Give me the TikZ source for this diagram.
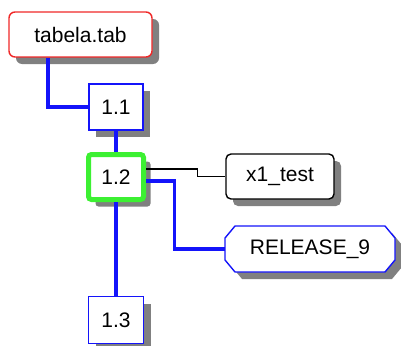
\documentclass[tikz,border=0pt]{standalone}
\usepackage{fontspec}
\setmainfont{Liberation Sans}
\usetikzlibrary{shadows,backgrounds}
\definecolor{boxblue}{RGB}{20,20,250}
\definecolor{boxred}{RGB}{240,40,40}
\definecolor{boxgreen}{RGB}{60,240,50}
\definecolor{shadowgrey}{RGB}{128,128,128}
\tikzset{
  label font/.style={font=\fontsize{21}{23}\selectfont, text=black},
  boxshadow/.style={drop shadow={shadow xshift=7pt, shadow yshift=-7pt, fill=shadowgrey, opacity=1}},
  item/.style={label font, boxshadow, fill=white, draw=boxblue, line width=1.4pt, inner sep=0pt},
  rootbox/.style={item, draw=boxred, rounded corners=6pt},
  revbox/.style={item, minimum width=55pt, minimum height=46pt},
  activebox/.style={item, draw=boxgreen, line width=5pt, rounded corners=3pt},
  namebox/.style={item, draw=black, rounded corners=5pt},
  tagtext/.style={label font, inner sep=0pt, outer sep=0pt},
  tagoutline/.style={boxshadow, fill=white, draw=boxblue, line width=1.4pt},
  branch/.style={draw=boxblue, line width=3.6pt},
  link/.style={draw=black, line width=1.3pt}
}
\begin{document}
\begin{tikzpicture}[x=1pt, y=-1pt]
  \useasboundingbox (0,0) rectangle (401,345);

  % revision tree
  \node[rootbox, minimum width=143pt, minimum height=45pt] (root) at (80.5,34.5) {tabela.tab};
  \node[revbox, minimum width=54pt] (r11) at (116,107) {1.1};
  \node[activebox, minimum width=55pt, minimum height=45pt] (r12) at (116,177) {1.2};
  \node[revbox, minimum height=47pt] (r13) at (116,320) {1.3};

  % names attached to revision 1.2
  \node[namebox, minimum width=108pt, minimum height=45pt] (x1) at (280,176.5) {x1\_test};
  \node[tagtext, minimum width=170pt, minimum height=46pt] (rel) at (310,249) {RELEASE\_9};
  \begin{pgfonlayer}{background}
    \path[tagoutline]
      ([xshift=10pt]rel.north west) -- ([xshift=-10pt]rel.north east)
      -- ([yshift=-12pt]rel.north east) -- ([yshift=12pt]rel.south east)
      -- ([xshift=-10pt]rel.south east) -- ([xshift=10pt]rel.south west)
      -- ([yshift=12pt]rel.south west) -- ([yshift=-12pt]rel.north west) -- cycle;
  \end{pgfonlayer}

  % connectors
  \draw[branch] ([xshift=-32.5pt]root.south) |- (r11.west);
  \draw[branch] (r11.south) -- (r12.north);
  \draw[branch] (r12.south) -- (r13.north);
  \draw[link] ([yshift=8pt]r12.east) -- ++(51.5,0) |- (x1.west);
  \draw[branch] ([yshift=-4pt]r12.east) -- ++(28.5,0) |- (rel.west);
\end{tikzpicture}
\end{document}
